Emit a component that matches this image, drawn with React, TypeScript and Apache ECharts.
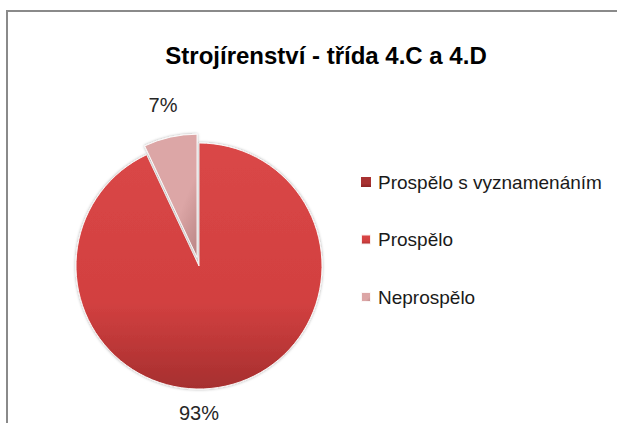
import React, { useEffect, useRef } from "react";
import * as echarts from "echarts";

const titleText = "Strojírenství - třída 4.C a 4.D";
const categories = ["Prospělo s vyznamenáním", "Prospělo", "Neprospělo"];
const values = [0, 93, 7];

const sliceColors = [
  ["#a83232", "#8a2424"],
  ["#da4747", "#a62f2f"],
  ["#dca6a6", "#b98484"],
];

export default function App() {
  const ref = useRef<HTMLDivElement>(null);
  useEffect(() => {
    document.body.style.margin = "0";
    document.body.style.overflow = "hidden";
    document.documentElement.style.overflow = "hidden";
    const chart = echarts.init(ref.current!, null, { renderer: "svg" });
    const titleFont = 'bold 24px "Liberation Sans"';
    const ctx = document.createElement("canvas").getContext("2d")!;
    ctx.font = titleFont;
    const tw = ctx.measureText(titleText).width;

    const data = categories.map((name, i) => ({
      name,
      value: values[i],
      selected: i === 2,
      label: { show: values[i] > 0 },
      itemStyle: {
        color: new echarts.graphic.LinearGradient(0, 0, i === 2 ? 1 : 0, 1, [
          { offset: 0, color: sliceColors[i][0] },
          { offset: 0.65, color: i === 1 ? "#d24040" : sliceColors[i][0] },
          { offset: 1, color: sliceColors[i][1] },
        ]),
        borderWidth: values[i] > 0 ? 1 : 0,
      },
    }));

    chart.setOption({
      animation: false,
      title: {
        text: titleText,
        left: 326 - tw / 2,
        top: 43,
        padding: 0,
        textStyle: {
          fontFamily: "Liberation Sans",
          fontWeight: "bold",
          fontSize: 24,
          color: "#000",
        },
      },
      legend: {
        orient: "vertical",
        left: 355,
        top: 167,
        itemWidth: 10,
        itemHeight: 10,
        itemGap: 37.5,
        icon: "rect",
        selectedMode: false,
        textStyle: {
          fontFamily: "Liberation Sans",
          fontSize: 19,
          lineHeight: 20,
          color: "#1a1a1a",
          padding: [0, 0, 0, 2],
        },
        data: categories,
      },
      graphic: [
        {
          type: "polyline",
          silent: true,
          z: -10,
          shape: {
            points: [
              [7, 700],
              [7, 11],
              [900, 11],
            ],
          },
          style: { fill: "none", stroke: "#8a8a8a", lineWidth: 2 },
        },
      ],
      series: [
        {
          type: "pie",
          center: [199, 266],
          radius: 123,
          startAngle: 90,
          clockwise: true,
          selectedMode: "single",
          selectedOffset: 9,
          avoidLabelOverlap: false,
          itemStyle: {
            borderColor: "rgba(255,255,255,0.9)",
            shadowBlur: 3,
            shadowColor: "rgba(0,0,0,0.35)",
          },
          label: {
            position: "outside",
            formatter: "{d}%",
            fontFamily: "Liberation Sans",
            fontSize: 20,
            color: "#262626",
            distanceToLabelLine: 0,
          },
          labelLine: { show: false, length: 33, length2: 0 },
          labelLayout: (p: any) => {
            if (p.dataIndex === 1) {
              return {
                x: p.rect.x + p.rect.width / 2,
                y: p.rect.y + p.rect.height + 23,
                align: "center",
                verticalAlign: "middle",
              };
            }
            return { align: "center" };
          },
          emphasis: { disabled: true },
          data,
        },
      ],
    });
    return () => chart.dispose();
  }, []);
  return <div ref={ref} style={{ width: 617, height: 423 }} />;
}
